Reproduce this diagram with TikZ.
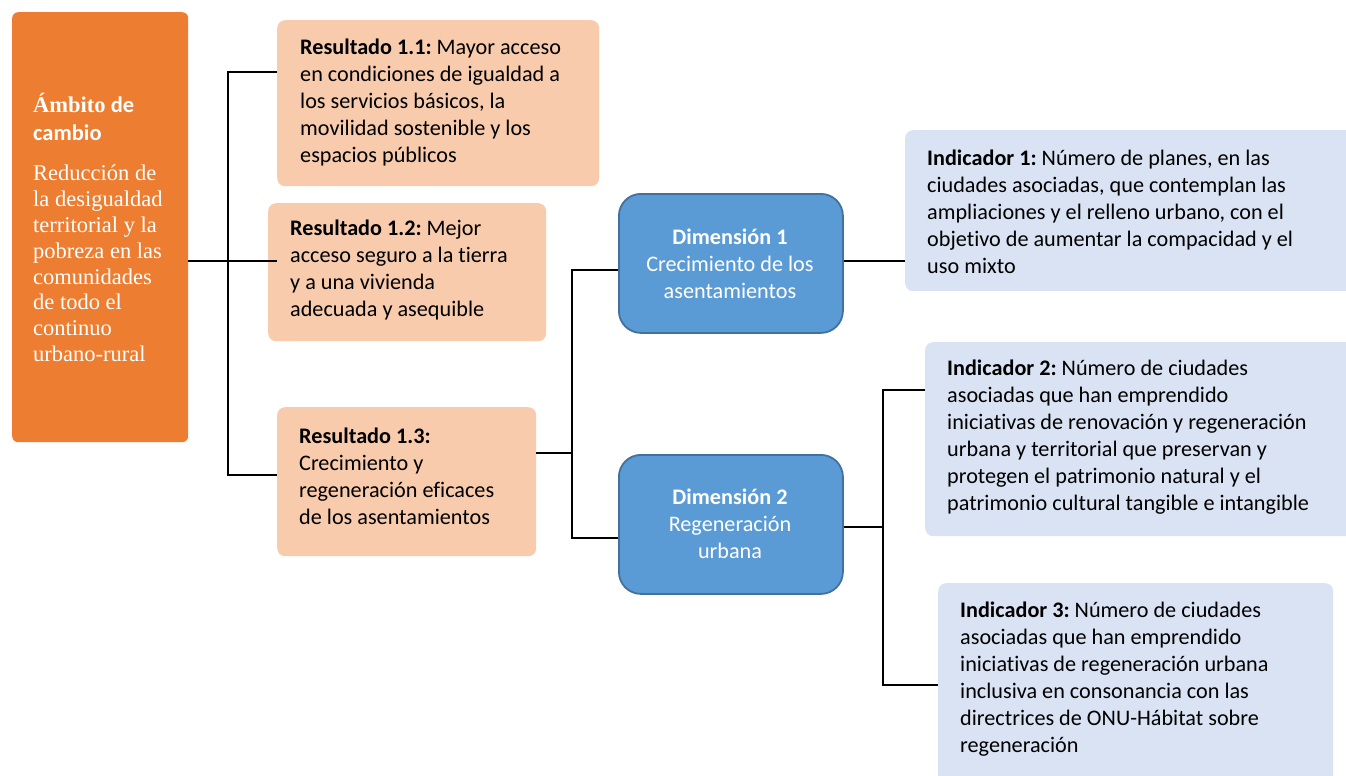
\documentclass[tikz,border=0pt]{standalone}
\usepackage{fontspec}
\setmainfont{Carlito}[Ligatures={NoCommon}]
\newfontfamily\tnr{Liberation Serif}
\definecolor{orng}{HTML}{ED7D31}
\definecolor{peach}{HTML}{F8CBAD}
\definecolor{dimblue}{HTML}{5B9BD5}
\definecolor{dimedge}{HTML}{41719C}
\definecolor{indblue}{HTML}{DAE3F3}
\frenchspacing
\begin{document}
\begin{tikzpicture}[x=1pt,y=-1pt,
  boxbase/.style={rectangle, anchor=north west, inner sep=0pt, draw=none},
  ambbox/.style={boxbase, fill=orng, rounded corners=6pt},
  resbox/.style={boxbase, fill=peach, rounded corners=8pt},
  dimbox/.style={boxbase, fill=dimblue, draw=dimedge, line width=1.8pt, rounded corners=22pt},
  indbox/.style={boxbase, fill=indblue, rounded corners=8pt},
  txt/.style={anchor=west, align=left, inner sep=0pt, font=\fontsize{22.2}{27}\selectfont},
  dimtxt/.style={anchor=center, align=center, inner sep=0pt, text=white, font=\fontsize{22.2}{27}\selectfont},
  conn/.style={draw=black, line width=1.3pt}]
\useasboundingbox (0,0) rectangle (1346,776);
\clip (0,0) rectangle (1346,776);
\fill[white] (0,0) rectangle (1346,776);

% boxes
\node[ambbox, minimum width=176pt, minimum height=430pt] (amb) at (12,12) {};
\node[resbox, minimum width=322pt, minimum height=166pt] (r11) at (277,20) {};
\node[resbox, minimum width=278pt, minimum height=138pt] (r12) at (268,203) {};
\node[resbox, minimum width=259pt, minimum height=149pt] (r13) at (277,407) {};
\node[dimbox, minimum width=224pt, minimum height=139pt] (d1) at (618,193) {};
\node[dimbox, minimum width=224pt, minimum height=139pt] (d2) at (618,454) {};
\node[indbox, minimum width=460pt, minimum height=161pt] (i1) at (905,130) {};
\node[indbox, minimum width=440pt, minimum height=194pt] (i2) at (925,342) {};
\node[indbox, minimum width=395pt, minimum height=220pt] (i3) at (938,583) {};

% texts
\node[txt, text=white, font=\fontsize{22.5}{28}\selectfont\bfseries] (ambh) at (33,117)
  {{\tnr Ámbito} de\\cambio};
\node[txt, text=white, font=\fontsize{22.5}{25.8}\selectfont\tnr] (ambt) at (33,263.5)
  {Reducción de\\la desigualdad\\territorial y la\\pobreza en las\\comunidades\\de todo el\\continuo\\urbano-rural};
\node[txt] (t11) at (300,102.5)
  {\textbf{Resultado 1.1:} Mayor acceso\\en condiciones de igualdad a\\los servicios básicos, la\\movilidad sostenible y los\\espacios públicos};
\node[txt] (t12) at (290,270)
  {\textbf{Resultado 1.2:} Mejor\\acceso seguro a la tierra\\y a una vivienda\\adecuada y asequible};
\node[txt] (t13) at (299,476.5)
  {\textbf{Resultado 1.3:}\\Crecimiento y\\regeneración eficaces\\de los asentamientos};
\node[dimtxt] (td1) at (730,264)
  {\textbf{Dimensión 1}\\Crecimiento de los\\asentamientos};
\node[dimtxt] (td2) at (730,524)
  {\textbf{Dimensión 2}\\Regeneración\\urbana};
\node[txt] (ti1) at (927,211.5)
  {\textbf{Indicador 1:} Número de planes, en las\\ciudades asociadas, que contemplan las\\ampliaciones y el relleno urbano, con el\\objetivo de aumentar la compacidad y el\\uso mixto};
\node[txt] (ti2) at (947,437.5)
  {\textbf{Indicador 2:} Número de ciudades\\asociadas que han emprendido\\iniciativas de renovación y regeneración\\urbana y territorial que preservan y\\protegen el patrimonio natural y el\\patrimonio cultural tangible e intangible};
\node[txt] (ti3) at (960,679)
  {\textbf{Indicador 3:} Número de ciudades\\asociadas que han emprendido\\iniciativas de regeneración urbana\\inclusiva en consonancia con las\\directrices de ONU-Hábitat sobre\\regeneración};

% connector junctions
\coordinate (ja) at (228,261);
\coordinate (jt) at (228,72);
\coordinate (jb) at (228,475);
\coordinate (ea) at (277,261);
\coordinate (k0) at (572,453);
\coordinate (k1) at (572,270);
\coordinate (k2) at (572,538);
\coordinate (m1) at (870,261);
\coordinate (n0) at (883,527);
\coordinate (n1) at (883,390);
\coordinate (n2) at (883,685);

% connectors
\draw[conn, line width=1.8pt] (amb.east |- ja) -- (ea);
\draw[conn] (r11.west |- jt) -- (jt) -- (jb) -- (r13.west |- jb);
\draw[conn] (r13.east |- k0) -- (k0);
\draw[conn] (k1 -| d1.west) -- (k1) -- (k2) -- (k2 -| d2.west);
\draw[conn] (d1.east |- m1) -- (i1.west |- m1);
\draw[conn] (d2.east |- n0) -- (n0);
\draw[conn] (i2.west |- n1) -- (n1) -- (n2) -- (i3.west |- n2);
\end{tikzpicture}
\end{document}
